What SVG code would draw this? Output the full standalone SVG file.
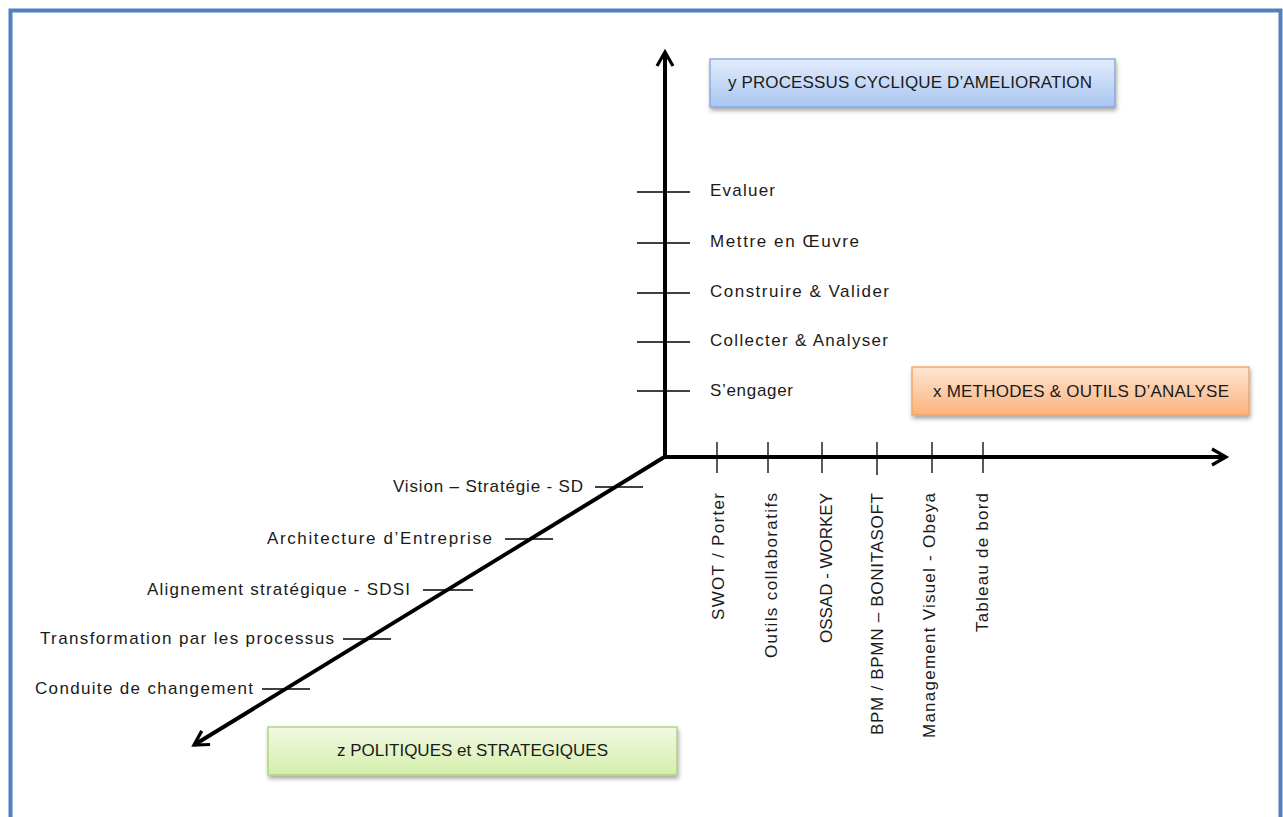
<svg xmlns="http://www.w3.org/2000/svg" width="1283" height="817" viewBox="0 0 1283 817">
<style>
text{font-family:"Liberation Sans",Arial,sans-serif;font-size:17px;fill:#1a1a1a}
.axis{stroke:#000;stroke-width:4;fill:none}
.tick{stroke:#000;stroke-width:1.3;fill:none}
.box{stroke-width:1.3}
</style>
<defs>
<linearGradient id="gb" x1="0" y1="0" x2="0" y2="1"><stop offset="0" stop-color="#e3ecfb"/><stop offset="1" stop-color="#a9c6f2"/></linearGradient>
<linearGradient id="go" x1="0" y1="0" x2="0" y2="1"><stop offset="0" stop-color="#fde6d2"/><stop offset="1" stop-color="#fbb27c"/></linearGradient>
<linearGradient id="gg" x1="0" y1="0" x2="0" y2="1"><stop offset="0" stop-color="#f2f9e4"/><stop offset="1" stop-color="#d4eeaa"/></linearGradient>
<filter id="sh" x="-10%" y="-20%" width="120%" height="150%"><feDropShadow dx="1" dy="3" stdDeviation="2" flood-color="#000" flood-opacity="0.35"/></filter>
<marker id="ah" viewBox="0 0 10 10" refX="8" refY="5" markerWidth="5" markerHeight="5" orient="auto" markerUnits="strokeWidth"><path d="M1,1 L8,5 L1,9" fill="none" stroke="#000" stroke-width="1.6"/></marker>
</defs>
<rect x="10.5" y="10.5" width="1270" height="820" fill="#fff" stroke="#4f81bd" stroke-width="4"/>
<g id="connectors">
<line class="axis" x1="665" y1="458" x2="665" y2="52" marker-end="url(#ah)"/>
<line class="axis" x1="663" y1="457" x2="1226" y2="457" marker-end="url(#ah)"/>
<line class="axis" x1="666" y1="456" x2="194" y2="745" marker-end="url(#ah)"/>
</g>
<g id="y-ticks">
<line class="tick" x1="637" y1="192" x2="690" y2="192"/>
<line class="tick" x1="637" y1="243" x2="690" y2="243"/>
<line class="tick" x1="637" y1="293" x2="690" y2="293"/>
<line class="tick" x1="637" y1="342" x2="690" y2="342"/>
<line class="tick" x1="637" y1="391" x2="690" y2="391"/>
<text x="710" y="196" textLength="65" lengthAdjust="spacing">Evaluer</text>
<text x="710" y="247" textLength="149" lengthAdjust="spacing">Mettre  en Œuvre</text>
<text x="710" y="297" textLength="179" lengthAdjust="spacing">Construire &amp; Valider</text>
<text x="710" y="346" textLength="178" lengthAdjust="spacing">Collecter &amp; Analyser</text>
<text x="710" y="396" textLength="83" lengthAdjust="spacing">S’engager</text>
</g>
<g id="x-ticks">
<line class="tick" x1="717" y1="442" x2="717" y2="473"/>
<line class="tick" x1="768" y1="442" x2="768" y2="473"/>
<line class="tick" x1="822" y1="442" x2="822" y2="473"/>
<line class="tick" x1="877" y1="442" x2="877" y2="475"/>
<line class="tick" x1="932" y1="442" x2="932" y2="473"/>
<line class="tick" x1="983" y1="442" x2="983" y2="473"/>
<text transform="translate(724,620) rotate(-90)" textLength="127" lengthAdjust="spacing">SWOT / Porter</text>
<text transform="translate(777,658) rotate(-90)" textLength="165" lengthAdjust="spacing">Outils collaboratifs</text>
<text transform="translate(832,643) rotate(-90)" textLength="150" lengthAdjust="spacing">OSSAD  -  WORKEY</text>
<text transform="translate(883,735) rotate(-90)" textLength="242" lengthAdjust="spacing">BPM / BPMN – BONITASOFT</text>
<text transform="translate(935,738) rotate(-90)" textLength="245" lengthAdjust="spacing">Management  Visuel - Obeya</text>
<text transform="translate(988,632) rotate(-90)" textLength="139" lengthAdjust="spacing">Tableau de bord</text>
</g>
<g id="z-ticks">
<line class="tick" x1="595" y1="487" x2="643" y2="487"/>
<line class="tick" x1="505" y1="539" x2="553" y2="539"/>
<line class="tick" x1="423" y1="590" x2="473" y2="590"/>
<line class="tick" x1="343" y1="639" x2="391" y2="639"/>
<line class="tick" x1="262" y1="689" x2="310" y2="689"/>
<text x="393" y="492" textLength="190" lengthAdjust="spacing">Vision – Stratégie  -  SD</text>
<text x="267" y="544" textLength="225" lengthAdjust="spacing">Architecture  d’Entreprise</text>
<text x="147" y="595" textLength="263" lengthAdjust="spacing">Alignement stratégique  - SDSI</text>
<text x="40" y="644" textLength="294" lengthAdjust="spacing">Transformation par les processus</text>
<text x="35" y="694" textLength="218" lengthAdjust="spacing">Conduite de changement</text>
</g>
<g id="box-y">
<rect class="box" x="710" y="59" width="405" height="48" fill="url(#gb)" stroke="#7fa3d6" filter="url(#sh)"/>
<text x="728" y="88" textLength="364" lengthAdjust="spacing">y PROCESSUS  CYCLIQUE  D’AMELIORATION</text>
</g>
<g id="box-x">
<rect class="box" x="912" y="367" width="337" height="48" fill="url(#go)" stroke="#f0a060" filter="url(#sh)"/>
<text x="933" y="397" textLength="296" lengthAdjust="spacing">x METHODES  &amp; OUTILS D’ANALYSE</text>
</g>
<g id="box-z">
<rect class="box" x="268" y="727" width="409" height="48" fill="url(#gg)" stroke="#a8d070" filter="url(#sh)"/>
<text x="337" y="756" textLength="271" lengthAdjust="spacing">z POLITIQUES et STRATEGIQUES</text>
</g>
</svg>
